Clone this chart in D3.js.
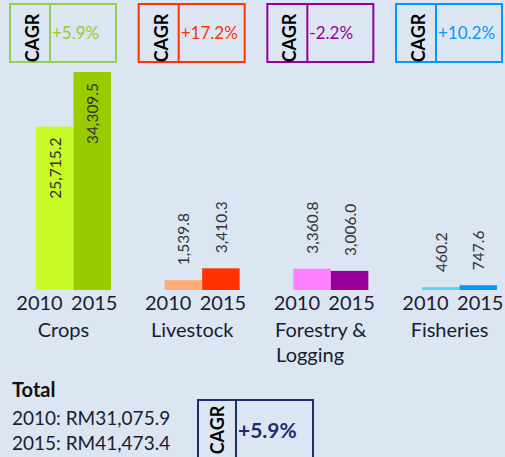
<!DOCTYPE html>
<html>
<head>
<meta charset="utf-8">
<script src="https://cdnjs.cloudflare.com/ajax/libs/d3/7.8.5/d3.min.js"></script>
<style>
  html, body { margin: 0; padding: 0; background: #dce6f2; }
  svg { display: block; font-family: Lato, "Open Sans", sans-serif; }
</style>
</head>
<body>
<div id="chart"></div>
<script>
// chart values
const categories = ["Crops", "Livestock", "Forestry &|Logging", "Fisheries"];
const years = ["2010", "2015"];
const values2010 = [25715.2, 1539.8, 3360.8, 460.2];
const values2015 = [34309.5, 3410.3, 3006.0, 747.6];
const cagrLabels = ["+5.9%", "+17.2%", "-2.2%", "+10.2%"];
const totalLines = ["2010: RM31,075.9", "2015: RM41,473.4"];
const totalCagr = "+5.9%";

// colours per category: [2010, 2015, box]
const colors2010 = ["#c8fa28", "#ffab78", "#ff80ff", "#55d6ff"];
const colors2015 = ["#99cc00", "#ff3300", "#990099", "#0099ff"];
const boxColors = ["#92d050", "#ff3300", "#990099", "#0099ff"];
const boxText = ["#99cc22", "#ff3300", "#990099", "#0099ff"];

const svgWidth = 505, svgHeight = 457;
const baseline = 290;

const svg = d3.select("#chart")
    .append("svg")
    .attr("width", svgWidth)
    .attr("height", svgHeight);

const rows = categories.map((c, i) => ({ cat: c, i: i, v: [values2010[i], values2015[i]] }));

// outer band for the categories, inner band for the two years
const x0 = d3.scaleBand()
    .domain(categories)
    .range([36, 497])
    .paddingInner(0.417)
    .paddingOuter(0);

const x1 = d3.scaleBand()
    .domain(years)
    .range([0, x0.bandwidth()]);

const y = d3.scaleLinear()
    .domain([0, 35000])
    .range([baseline, baseline - 222.4]);

const fmt = d3.format(",.1f");

const groups = svg.selectAll(".group")
    .data(rows)
    .enter()
    .append("g")
    .attr("class", "group")
    .attr("transform", d => `translate(${x0(d.cat)},0)`);

// bars
groups.selectAll("rect")
    .data(d => years.map((yr, j) => ({ yr: yr, val: d.v[j], col: j == 0 ? colors2010[d.i] : colors2015[d.i] })))
    .enter()
    .append("rect")
    .attr("x", d => x1(d.yr))
    .attr("y", d => y(d.val))
    .attr("width", x1.bandwidth())
    .attr("height", d => baseline - y(d.val))
    .attr("fill", d => d.col);

// value labels, rotated; inside big bars, above small ones
groups.selectAll(".val")
    .data(d => years.map((yr, j) => ({ yr: yr, val: d.v[j] })))
    .enter()
    .append("text")
    .attr("class", "val")
    .attr("transform", d => {
        const cx = x1(d.yr) + x1.bandwidth() / 2 + 6;
        const tall = baseline - y(d.val) > 100;
        const ty = tall ? y(d.val) + 11 : y(d.val) - 15;
        return `translate(${cx},${ty}) rotate(-90)`;
    })
    .attr("text-anchor", d => (baseline - y(d.val) > 100) ? "end" : "start")
    .attr("font-size", "15.5px")
    .attr("fill", "#333")
    .text(d => fmt(d.val));

// year labels under the bars
groups.append("text")
    .attr("x", x1("2015") - 34)
    .attr("y", baseline + 20)
    .attr("text-anchor", "middle")
    .attr("font-size", "20px")
    .attr("fill", "#1b1b2f")
    .text(years[0]);

groups.append("text")
    .attr("x", x1("2015") + x1.bandwidth() / 2 + 2)
    .attr("y", baseline + 20)
    .attr("text-anchor", "middle")
    .attr("font-size", "20px")
    .attr("fill", "#1b1b2f")
    .text(years[1]);

// category names (| splits lines); first line centred, next lines start where it starts
groups.each(function (d) {
    const g = d3.select(this);
    const lines = d.cat.split("|");
    const cx = x0.bandwidth() / 2 - 10;
    const first = g.append("text")
        .attr("x", cx)
        .attr("y", 337)
        .attr("text-anchor", "middle")
        .attr("font-size", "20px")
        .attr("fill", "#1b1b2f")
        .text(lines[0]);
    const left = cx - first.node().getComputedTextLength() / 2;
    lines.slice(1).forEach((t, k) => {
        g.append("text")
            .attr("x", left + 1)
            .attr("y", 337 + (k + 1) * 25)
            .attr("font-size", "20px")
            .attr("fill", "#1b1b2f")
            .text(t);
    });
});

// CAGR boxes on top
const boxW = 106, boxH = 58, boxTop = 4, divX = 40;
const boxes = svg.selectAll(".cagr")
    .data(rows)
    .enter()
    .append("g")
    .attr("class", "cagr")
    .attr("transform", d => `translate(${x0(d.cat) + x0.bandwidth() + 5 - boxW},${boxTop})`);

boxes.append("rect")
    .attr("width", boxW)
    .attr("height", boxH)
    .attr("fill", "none")
    .attr("stroke", d => boxColors[d.i])
    .attr("stroke-width", 2);

boxes.append("line")
    .attr("x1", divX).attr("x2", divX)
    .attr("y1", 0).attr("y2", boxH)
    .attr("stroke", d => boxColors[d.i])
    .attr("stroke-width", 2);

boxes.append("text")
    .attr("transform", `translate(${divX - 11},${boxH / 2 + 5}) rotate(-90)`)
    .attr("text-anchor", "middle")
    .attr("font-size", "18px")
    .attr("font-weight", "bold")
    .attr("fill", "#000")
    .text("CAGR");

boxes.append("text")
    .attr("x", divX + 2)
    .attr("y", boxH / 2 + 6)
    .attr("font-size", "17px")
    .attr("fill", d => boxText[d.i])
    .text(d => cagrLabels[d.i]);

// total block
svg.append("text")
    .attr("x", 12)
    .attr("y", 397)
    .attr("font-size", "20px")
    .attr("font-weight", "bold")
    .attr("fill", "#111")
    .text("Total");

svg.selectAll(".totalLine")
    .data(totalLines)
    .enter()
    .append("text")
    .attr("class", "totalLine")
    .attr("x", 12)
    .attr("y", (d, k) => 425 + k * 25)
    .attr("font-size", "19px")
    .attr("fill", "#1b1b2f")
    .text(d => d);

const tot = svg.append("g").attr("transform", "translate(198,400)");
tot.append("rect")
    .attr("width", 115)
    .attr("height", 70)
    .attr("fill", "none")
    .attr("stroke", "#1f2d6e")
    .attr("stroke-width", 2);
tot.append("line")
    .attr("x1", 38).attr("x2", 38)
    .attr("y1", 0).attr("y2", 70)
    .attr("stroke", "#1f2d6e")
    .attr("stroke-width", 2);
tot.append("text")
    .attr("transform", "translate(26,30) rotate(-90)")
    .attr("text-anchor", "middle")
    .attr("font-size", "18px")
    .attr("font-weight", "bold")
    .attr("fill", "#000")
    .text("CAGR");
tot.append("text")
    .attr("x", 40)
    .attr("y", 38)
    .attr("font-size", "21px")
    .attr("font-weight", "bold")
    .attr("fill", "#1f2d6e")
    .text(totalCagr);
</script>
</body>
</html>
